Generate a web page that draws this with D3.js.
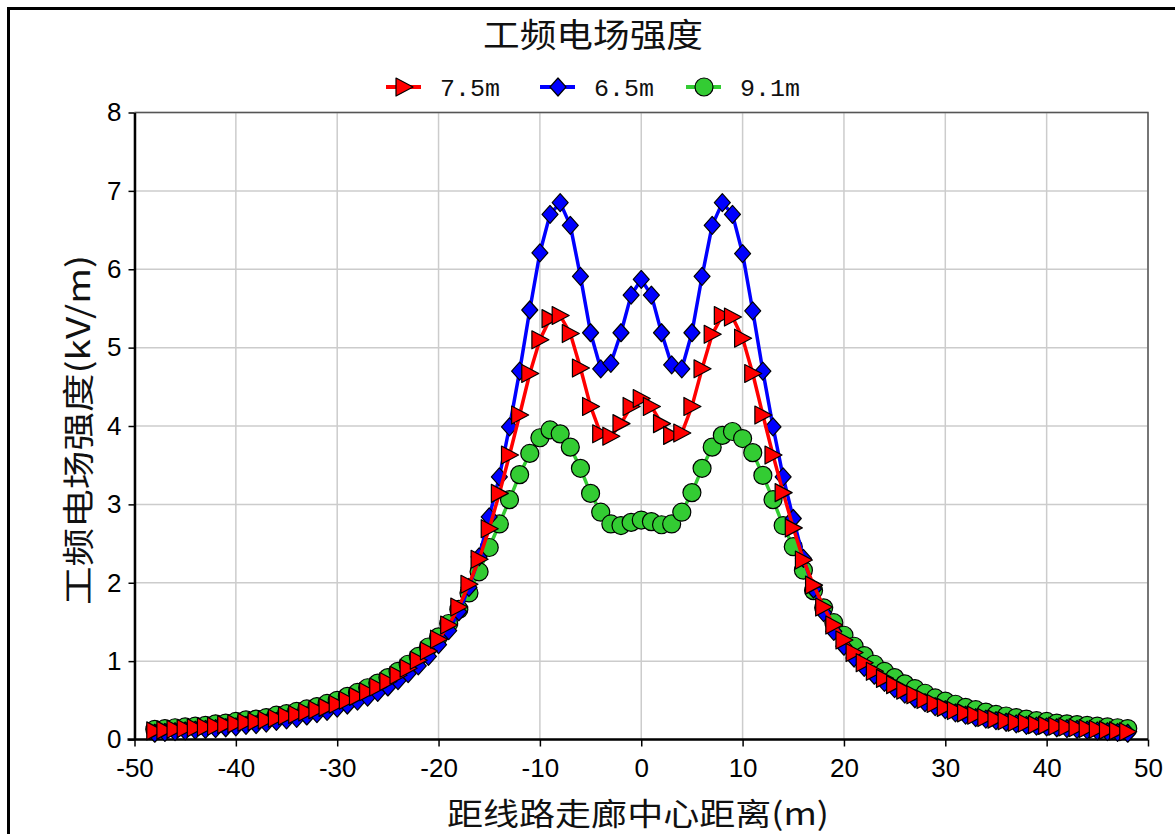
<!DOCTYPE html>
<html>
<head>
<meta charset="utf-8">
<script src="https://cdn.jsdelivr.net/npm/d3@7"></script>
<style>
  body { margin: 0; background: #fff; }
</style>
</head>
<body>
<svg id="chart"></svg>
<script>
const width = 1175;
const height = 834;

// distance from corridor centre (m), one point per metre
const distance = d3.range(-48, 49);

// field strength (kV/m) for each conductor height
const e75 = [0.11,0.12,0.13,0.14,0.15,0.16,0.17,0.19,0.20,0.22,0.23,0.25,0.27,0.30,0.32,0.35,0.38,0.41,0.45,0.50,
             0.55,0.61,0.67,0.74,0.82,0.91,1.01,1.13,1.28,1.46,1.69,1.98,2.30,2.69,3.14,3.63,4.14,4.67,5.10,5.37,
             5.41,5.18,4.74,4.25,3.90,3.87,4.03,4.25,4.35,4.25,4.03,3.88,3.91,4.25,4.73,5.17,5.41,5.39,5.12,4.67,
             4.14,3.63,3.15,2.70,2.29,1.97,1.69,1.46,1.27,1.11,0.98,0.87,0.78,0.70,0.63,0.57,0.51,0.46,0.41,0.37,
             0.34,0.31,0.28,0.26,0.24,0.22,0.21,0.19,0.18,0.17,0.16,0.15,0.14,0.13,0.12,0.11,0.10];
const e65 = [0.08,0.09,0.10,0.11,0.12,0.13,0.14,0.15,0.16,0.18,0.19,0.21,0.23,0.25,0.27,0.30,0.33,0.36,0.40,0.44,
             0.49,0.54,0.60,0.67,0.75,0.84,0.94,1.06,1.21,1.39,1.63,1.94,2.33,2.84,3.35,3.99,4.70,5.48,6.21,6.70,
             6.85,6.56,5.91,5.19,4.73,4.80,5.19,5.67,5.87,5.67,5.19,4.78,4.73,5.19,5.91,6.56,6.85,6.70,6.20,5.47,
             4.70,3.99,3.35,2.82,2.31,1.92,1.62,1.38,1.19,1.04,0.92,0.82,0.73,0.65,0.58,0.52,0.47,0.42,0.38,0.34,
             0.31,0.28,0.26,0.24,0.22,0.20,0.18,0.17,0.16,0.15,0.14,0.13,0.12,0.11,0.10,0.09,0.08];
const e91 = [0.13,0.14,0.15,0.16,0.17,0.18,0.20,0.21,0.23,0.25,0.26,0.28,0.31,0.33,0.36,0.39,0.42,0.46,0.50,0.55,
             0.60,0.66,0.72,0.79,0.87,0.96,1.06,1.18,1.31,1.48,1.66,1.87,2.14,2.45,2.75,3.06,3.38,3.65,3.85,3.95,
             3.90,3.73,3.46,3.14,2.90,2.75,2.73,2.77,2.80,2.78,2.74,2.75,2.90,3.15,3.46,3.73,3.88,3.93,3.84,3.66,
             3.37,3.06,2.73,2.46,2.16,1.90,1.68,1.49,1.33,1.19,1.07,0.96,0.87,0.79,0.71,0.65,0.59,0.53,0.49,0.45,
             0.41,0.38,0.35,0.32,0.30,0.28,0.26,0.24,0.23,0.21,0.20,0.19,0.18,0.17,0.16,0.15,0.14];

const seriesNames = ["7.5m", "6.5m", "9.1m"];
const seriesColors = ["#ff0000", "#0000ff", "#33cc33"];
const xTicks = [-50, -40, -30, -20, -10, 0, 10, 20, 30, 40, 50];
const yTicks = [0, 1, 2, 3, 4, 5, 6, 7, 8];

const titleText = "工频电场强度";
const xTitle = "距线路走廊中心距离(m)";
const yTitle = "工频电场强度(kV/m)";

const cjk = "'Noto Sans CJK SC', sans-serif";
const plot = {left: 134.5, right: 1148, top: 112.5, bottom: 739.5};

const x = d3.scaleLinear([-50, 50], [plot.left, plot.right]);
const y = d3.scaleLinear([0, 8], [plot.bottom, plot.top]);

const svg = d3.select('#chart')
    .attr('width', width)
    .attr('height', height)
    .attr('viewBox', [0, 0, width, height]);

// outer frame (top + left edges visible)
svg.append('path')
    .attr('d', `M8.5,${height} V8.5 H${width}`)
    .attr('fill', 'none')
    .attr('stroke', '#000')
    .attr('stroke-width', 3);

// grid
const grid = svg.append('g').attr('id', 'grid');
grid.selectAll('line.v').data(xTicks).join('line')
    .attr('x1', d => x(d)).attr('x2', d => x(d))
    .attr('y1', plot.top).attr('y2', plot.bottom)
    .attr('stroke', '#cccccc').attr('stroke-width', 1.5);
grid.selectAll('line.h').data(yTicks).join('line')
    .attr('x1', plot.left).attr('x2', plot.right)
    .attr('y1', d => y(d)).attr('y2', d => y(d))
    .attr('stroke', '#cccccc').attr('stroke-width', 1.5);

// top / right border of plot area
svg.append('path')
    .attr('d', `M${plot.left},${plot.top} H${plot.right} V${plot.bottom}`)
    .attr('fill', 'none')
    .attr('stroke', '#555')
    .attr('stroke-width', 1.5);

// axes (plain hyphen for negatives, like the original)
const plain = d => String(d);
const xAxis = svg.append('g')
    .attr('transform', `translate(0,${plot.bottom})`)
    .call(d3.axisBottom(x).tickValues(xTicks).tickFormat(plain)
      .tickSize(7).tickSizeOuter(0).tickPadding(12));
const yAxis = svg.append('g')
    .attr('transform', `translate(${plot.left},0)`)
    .call(d3.axisLeft(y).tickValues(yTicks).tickFormat(plain)
      .tickSize(6).tickSizeOuter(0).tickPadding(7));

[xAxis, yAxis].forEach(g => {
  g.select('.domain').attr('stroke', '#000').attr('stroke-width', 2.5);
  g.selectAll('.tick line').attr('stroke', '#000').attr('stroke-width', 1.5);
  g.selectAll('.tick text')
    .attr('fill', '#000')
    .attr('font-family', "'Liberation Sans', Arial, sans-serif")
    .attr('font-size', '26px');
});
// bottom axis line also runs a bit left of the y axis
xAxis.select('.domain').attr('d', `M${plot.left - 7},0H${plot.right}`);

// marker shapes
const markerPath = [
  'M-8,-9L9,0L-8,9Z',          // right-pointing triangle
  'M0,-9L8,0L0,9L-8,0Z',       // diamond
  null                         // circle
];

function drawMarker(sel, i) {
  if (i === 2) {
    sel.append('circle').attr('r', 9)
      .attr('fill', seriesColors[i]).attr('stroke', '#000').attr('stroke-width', 1.2);
  } else {
    sel.append('path').attr('d', markerPath[i])
      .attr('fill', seriesColors[i]).attr('stroke', '#000').attr('stroke-width', 1.2)
      .attr('stroke-linejoin', 'round');
  }
}

const seriesValues = [e75, e65, e91];
const line = d3.line().x(d => x(d[0])).y(d => y(d[1]));

// draw 9.1m first, then 6.5m, then 7.5m on top
[2, 1, 0].forEach(i => {
  const pts = distance.map((d, k) => [d, seriesValues[i][k]]);
  const g = svg.append('g').attr('class', 'series');
  g.append('path')
    .datum(pts)
    .attr('fill', 'none')
    .attr('stroke', seriesColors[i])
    .attr('stroke-width', 3.5)
    .attr('stroke-linejoin', 'round')
    .attr('d', line);
  g.selectAll('g.m').data(pts).join('g')
    .attr('class', 'm')
    .attr('transform', d => `translate(${x(d[0])},${y(d[1])})`)
    .each(function() { drawMarker(d3.select(this), i); });
});

// title
svg.append('text')
    .attr('x', 593).attr('y', 47)
    .attr('text-anchor', 'middle')
    .attr('font-family', cjk)
    .attr('font-size', '33px')
    .attr('fill', '#111')
    .attr('textLength', 220)
    .attr('lengthAdjust', 'spacingAndGlyphs')
    .text(titleText);

// legend
const legendX = [386, 540, 686];
const legend = svg.append('g').attr('id', 'legend');
seriesNames.forEach((name, i) => {
  const g = legend.append('g').attr('transform', `translate(${legendX[i]},87)`);
  g.append('line').attr('x1', 0).attr('x2', 35).attr('y1', 0).attr('y2', 0)
    .attr('stroke', seriesColors[i]).attr('stroke-width', 4);
  const m = g.append('g').attr('transform', 'translate(18,0)');
  drawMarker(m, i);
  g.append('text')
    .attr('x', 54).attr('y', 9)
    .attr('font-family', "'Liberation Mono', monospace")
    .attr('font-size', '24px')
    .attr('fill', '#111')
    .attr('textLength', 60)
    .attr('lengthAdjust', 'spacingAndGlyphs')
    .text(name);
});

// axis titles
svg.append('text')
    .attr('x', 638).attr('y', 825)
    .attr('text-anchor', 'middle')
    .attr('font-family', cjk)
    .attr('font-size', '31px')
    .attr('fill', '#111')
    .attr('textLength', 382)
    .attr('lengthAdjust', 'spacingAndGlyphs')
    .text(xTitle);

svg.append('text')
    .attr('transform', 'translate(90,430) rotate(-90)')
    .attr('text-anchor', 'middle')
    .attr('font-family', cjk)
    .attr('font-size', '32px')
    .attr('fill', '#111')
    .attr('textLength', 350)
    .attr('lengthAdjust', 'spacingAndGlyphs')
    .text(yTitle);
</script>
</body>
</html>
